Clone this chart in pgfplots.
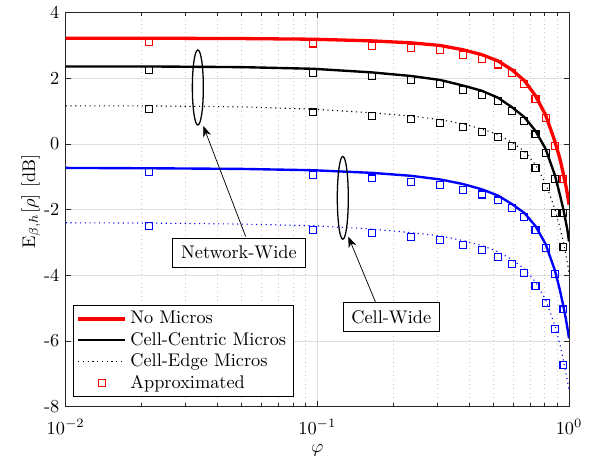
\documentclass[border=0pt]{standalone}
\usepackage{pgfplots}
\pgfplotsset{compat=1.18}
\usetikzlibrary{arrows.meta}
\pgfplotsset{
  myline legend/.style={legend image code/.code={\draw[##1] (0cm,0cm) -- (0.9cm,0cm);}},
  mymark legend/.style={legend image code/.code={\draw[mark repeat=2,mark phase=2,##1] plot coordinates {(0cm,0cm) (0.45cm,0cm) (0.9cm,0cm)};}},
}
\begin{document}
\begin{tikzpicture}
\useasboundingbox (-35.9pt,-31.8pt) rectangle (286.9pt,222.1pt);
\begin{axis}[
  scale only axis, width=274.9pt, height=215.2pt,
  xmode=log, xmin=0.01, xmax=1, ymin=-8, ymax=4,
  ytick={-8,-6,-4,-2,0,2,4},
  yticklabels={{-8},{-6},{-4},{-2},{0},{2},{4}},
  xtick={0.01,0.1,1},
  grid=both,
  major grid style={black!13, line width=0.5pt},
  minor grid style={black!22, dotted, line width=0.4pt},
  tick align=inside,
  major tick length=3pt, minor tick length=1.8pt,
  axis line style={black!85, line width=0.5pt},
  every tick/.style={black!85},
  xticklabel style={yshift=-3.5pt},
  xlabel={$\varphi$},
  xlabel style={at={(axis description cs:0.5,0)}, anchor=center, yshift=-24pt},
  ylabel={$\mathrm{E}_{\beta,h}[\rho]$ [dB]},
  ylabel style={at={(axis description cs:-0.069,0.52)}, anchor=center},
  legend style={at={(0.014,0.024)}, anchor=south west, draw=black, line width=0.5pt, font=\normalsize, inner xsep=1.8pt, inner ysep=1pt, row sep=-0.8pt, cells={anchor=west}},
]
% No Micros (network-wide)
\addplot[red, line width=1.8pt, myline legend] coordinates {
(0.01,3.22) (0.0214,3.22) (0.05,3.21) (0.096,3.19) (0.1643,3.14) (0.2357,3.08) (0.3071,3.00) (0.3786,2.87) (0.45,2.72) (0.5214,2.53) (0.5929,2.26) (0.6643,1.93) (0.7357,1.47) (0.8071,0.88) (0.8786,0.08) (0.92,-0.45) (0.95,-0.92) (0.97,-1.25) (0.985,-1.52) (1.0,-1.85)};
\addlegendentry{No Micros}
% Cell-Centric Micros (network-wide)
\addplot[black, line width=1.3pt, myline legend] coordinates {
(0.01,2.36) (0.0214,2.36) (0.05,2.34) (0.096,2.29) (0.1643,2.18) (0.2357,2.07) (0.3071,1.95) (0.3786,1.78) (0.45,1.62) (0.5214,1.41) (0.5929,1.12) (0.6643,0.82) (0.7357,0.40) (0.8071,-0.15) (0.8786,-0.95) (0.92,-1.55) (0.95,-2.0) (0.97,-2.35) (0.985,-2.62) (1.0,-2.97)};
\addlegendentry{Cell-Centric Micros}
% Cell-Edge Micros (network-wide)
\addplot[black, line width=0.6pt, dotted, myline legend] coordinates {
(0.01,1.16) (0.0214,1.16) (0.05,1.13) (0.096,1.06) (0.1643,0.95) (0.2357,0.85) (0.3071,0.74) (0.3786,0.61) (0.45,0.46) (0.5214,0.29) (0.5929,0.05) (0.6643,-0.22) (0.7357,-0.63) (0.8071,-1.20) (0.8786,-1.98) (0.92,-2.55) (0.95,-3.0) (0.97,-3.35) (0.985,-3.62) (1.0,-3.93)};
\addlegendentry{Cell-Edge Micros}
% Approximated (red)
\addplot[only marks, red, mark=square, mark size=1.9pt, mark options={solid, line width=0.6pt}, mymark legend] coordinates {
(0.0214,3.10) (0.096,3.06) (0.1643,2.99) (0.2357,2.93) (0.3071,2.85) (0.3786,2.72) (0.45,2.58) (0.5214,2.42) (0.5929,2.15) (0.6643,1.83) (0.7357,1.37) (0.8071,0.79) (0.8786,-0.06) (0.95,-1.07)};
\addlegendentry{Approximated}
% Cell-wide curves
\addplot[blue, line width=1.3pt, forget plot] coordinates {
(0.01,-0.73) (0.0214,-0.74) (0.05,-0.76) (0.096,-0.80) (0.1643,-0.88) (0.2357,-0.97) (0.3071,-1.08) (0.3786,-1.22) (0.45,-1.38) (0.5214,-1.57) (0.5929,-1.83) (0.6643,-2.10) (0.7357,-2.50) (0.8071,-3.05) (0.8786,-3.85) (0.92,-4.45) (0.95,-4.95) (0.97,-5.3) (0.985,-5.6) (1.0,-5.92)};
\addplot[blue, line width=0.6pt, dotted, forget plot] coordinates {
(0.01,-2.40) (0.0214,-2.41) (0.05,-2.44) (0.096,-2.49) (0.1643,-2.59) (0.2357,-2.70) (0.3071,-2.80) (0.3786,-2.94) (0.45,-3.09) (0.5214,-3.28) (0.5929,-3.52) (0.6643,-3.80) (0.7357,-4.20) (0.8071,-4.74) (0.8786,-5.53) (0.92,-6.1) (0.95,-6.6) (0.97,-6.95) (0.985,-7.2) (1.0,-7.54)};
% Approximated markers, other series
\addplot[only marks, black, mark=square, mark size=1.9pt, mark options={solid, line width=0.6pt}, forget plot] coordinates {
(0.0214,2.25) (0.096,2.17) (0.1643,2.06) (0.2357,1.94) (0.3071,1.83) (0.3786,1.65) (0.45,1.50) (0.5214,1.30) (0.5929,1.00) (0.6643,0.70) (0.7357,0.29) (0.8071,-0.27) (0.8786,-1.07) (0.95,-2.11)};
\addplot[only marks, black, mark=square, mark size=1.9pt, mark options={solid, line width=0.6pt}, forget plot] coordinates {
(0.0214,1.07) (0.096,0.96) (0.1643,0.85) (0.2357,0.75) (0.3071,0.64) (0.3786,0.51) (0.45,0.37) (0.5214,0.20) (0.5929,-0.06) (0.6643,-0.33) (0.7357,-0.74) (0.8071,-1.30) (0.8786,-2.11) (0.95,-3.13)};
\addplot[only marks, blue, mark=square, mark size=1.9pt, mark options={solid, line width=0.6pt}, forget plot] coordinates {
(0.0214,-0.85) (0.096,-0.95) (0.1643,-1.05) (0.2357,-1.15) (0.3071,-1.25) (0.3786,-1.40) (0.45,-1.54) (0.5214,-1.72) (0.5929,-1.96) (0.6643,-2.23) (0.7357,-2.62) (0.8071,-3.18) (0.8786,-3.97) (0.95,-5.04)};
\addplot[only marks, blue, mark=square, mark size=1.9pt, mark options={solid, line width=0.6pt}, forget plot] coordinates {
(0.0214,-2.51) (0.096,-2.62) (0.1643,-2.72) (0.2357,-2.83) (0.3071,-2.92) (0.3786,-3.08) (0.45,-3.23) (0.5214,-3.43) (0.5929,-3.65) (0.6643,-3.94) (0.7357,-4.32) (0.8071,-4.85) (0.8786,-5.64) (0.95,-6.73)};
% annotations
\draw[line width=0.7pt] (axis cs:0.0335,1.72) ellipse [x radius=3pt, y radius=20.5pt];
\draw[line width=0.7pt] (axis cs:0.1262,-1.64) ellipse [x radius=3pt, y radius=22.6pt];
\draw[line width=0.4pt, -{Stealth[length=6pt,width=4.5pt]}] (axis cs:0.0519,-2.82) -- (axis cs:0.0352,0.55);
\draw[line width=0.4pt, -{Stealth[length=6pt,width=4.5pt]}] (axis cs:0.1709,-4.85) -- (axis cs:0.1327,-2.82);
\node[draw, fill=white, line width=0.5pt, inner xsep=4.7pt, minimum height=15.7pt] at (axis cs:0.0488,-3.31) {Network-Wide};
\node[draw, fill=white, line width=0.5pt, inner xsep=4.5pt, minimum height=15.7pt] at (axis cs:0.1966,-5.28) {Cell-Wide};
\end{axis}
\end{tikzpicture}
\end{document}
